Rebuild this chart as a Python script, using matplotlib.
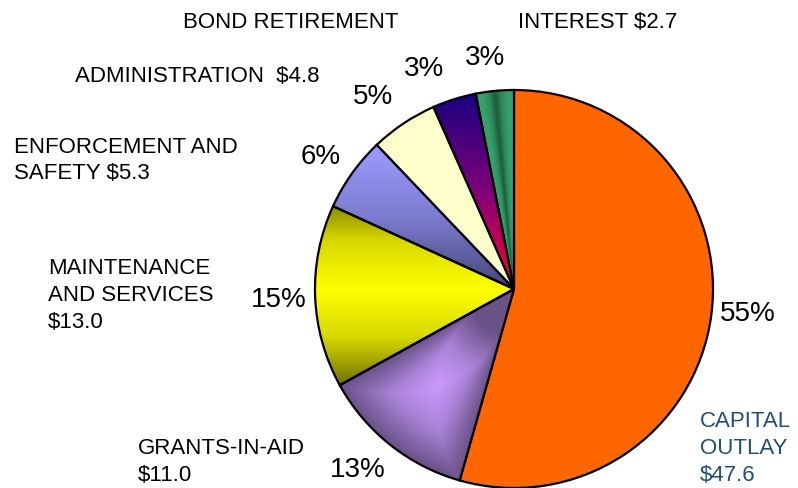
import numpy as np
import matplotlib
matplotlib.use('Agg')
import matplotlib.pyplot as plt
from matplotlib.colors import to_rgb

# spending categories, clockwise from 12 o'clock
categories = ['CAPITAL OUTLAY', 'GRANTS-IN-AID', 'MAINTENANCE AND SERVICES',
              'ENFORCEMENT AND SAFETY', 'ADMINISTRATION', 'BOND RETIREMENT', 'INTEREST']
amounts = [47.6, 11.0, 13.0, 5.3, 4.8, 3.1, 2.7]  # bond retirement not printed, estimated
pct_labels = ['55%', '13%', '15%', '6%', '5%', '3%', '3%']
cat_labels = ['CAPITAL\nOUTLAY\n$47.6', 'GRANTS-IN-AID\n$11.0', 'MAINTENANCE\nAND SERVICES\n$13.0',
              'ENFORCEMENT AND\nSAFETY $5.3', 'ADMINISTRATION  $4.8', 'BOND RETIREMENT',
              'INTEREST $2.7']
colors = ['#FF6600', '#CC99FF', '#FFFF00', '#9999FF', '#FFFFCC', '#990066', '#339966']

W, H = 798, 488
CX, CY, R = 514, H - 289, 199

plt.rcParams['font.family'] = ['Liberation Sans', 'DejaVu Sans']

fig = plt.figure(figsize=(W / 100, H / 100), dpi=100)
ax = fig.add_axes([0, 0, 1, 1])

wedges, _ = ax.pie(amounts, colors=colors, startangle=90, counterclock=False,
                   center=(CX, CY), radius=R,
                   wedgeprops=dict(edgecolor='black', linewidth=1.6))

# gradient fills, clipped to the wedges
n = 500
xs = np.linspace(CX - R, CX + R, n)
ys = np.linspace(CY - R, CY + R, n)
X, Y = np.meshgrid(xs, ys)
ANG = np.degrees(np.arctan2(Y - CY, X - CX)) % 360
RAD = np.hypot(X - CX, Y - CY)


def blend(stops, t):
    t = np.clip(t, 0, 1)
    pos = np.linspace(0, 1, len(stops))
    rgb = np.array([to_rgb(c) for c in stops])
    out = np.zeros(t.shape + (3,))
    for k in range(3):
        out[..., k] = np.interp(t, pos, rgb[:, k])
    return out


def ang_offset(w):
    a1, a2 = w.theta1 % 360, w.theta2 % 360
    mid = (a1 + (a2 - a1) % 360 / 2) % 360
    half = ((a2 - a1) % 360) / 2
    d = (ANG - mid + 180) % 360 - 180
    return np.abs(d) / half


def paint(w, img):
    im = ax.imshow(img, extent=(CX - R, CX + R, CY - R, CY + R), origin='lower',
                   interpolation='bilinear', zorder=1)
    im.set_clip_path(w)
    w.set_facecolor('none')
    w.set_zorder(3)


def ybounds(w):
    ext = w.get_path().get_extents()
    return ext.y0, ext.y1


# grants-in-aid: light centre, dark rim
w = wedges[1]
t = np.maximum(ang_offset(w), np.abs(RAD - 0.62 * R) / (0.38 * R))
paint(w, blend(['#CC99FF', '#A982D6', '#6A5288'], t))

# maintenance: bright band across the middle, olive above and below
w = wedges[2]
y0, y1 = ybounds(w)
t = np.abs(Y - CY) / max(y1 - CY, CY - y0)
paint(w, blend(['#FFFF00', '#D8D800', '#707000'], t))

# enforcement: lilac to slate, top to bottom
w = wedges[3]
y0, y1 = ybounds(w)
t = (y1 - Y) / (y1 - y0)
paint(w, blend(['#9C9CFF', '#7C7CD0', '#45457A'], t))

# bond retirement: navy -> magenta -> red
w = wedges[5]
y0, y1 = ybounds(w)
t = (y1 - Y) / (y1 - y0)
paint(w, blend(['#1A0080', '#80007A', '#FF0033'], t))

# interest: dark stripe along the middle
w = wedges[6]
t = ang_offset(w)
paint(w, blend(['#1E5A3B', '#2E8A5C', '#36A06A', '#36A06A'], t))

ax.set_xlim(0, W)
ax.set_ylim(0, H)
ax.set_aspect('equal')
ax.axis('off')

# category labels (left edge, vertical centre in pixels from top)
lab_pos = [(700, 448.5), (138, 462), (48, 295.5), (14, 160.5), (75, 77), (183, 22), (518, 22)]
for txt, (x, y) in zip(cat_labels, lab_pos):
    ax.text(x, H - y, txt, ha='left', va='center', fontsize=16, linespacing=1.36,
            color='#1F4E79' if txt.startswith('CAPITAL') else 'black')

pct_pos = [(748, 314), (358, 470), (279, 300), (321, 157), (373, 97), (424, 69), (485, 58)]
for txt, (x, y) in zip(pct_labels, pct_pos):
    ax.text(x, H - y, txt, ha='center', va='center', fontsize=20)

fig.savefig('out.png', dpi=100)
